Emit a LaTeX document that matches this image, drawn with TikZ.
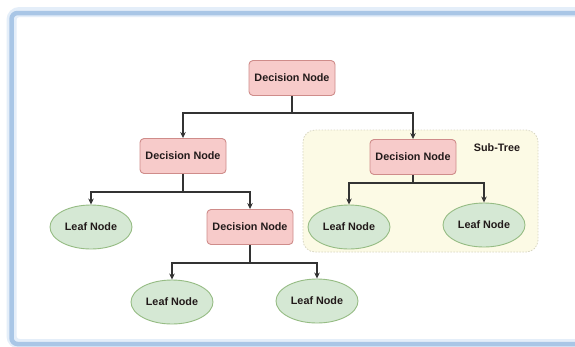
\documentclass[tikz,border=0pt]{standalone}
\usepackage{fontspec}
\setmainfont{Liberation Sans}
\usetikzlibrary{arrows.meta,shapes.geometric}
\definecolor{decfill}{HTML}{F7CBCA}
\definecolor{decdraw}{HTML}{CF8C8A}
\definecolor{leaffill}{HTML}{D5E8D4}
\definecolor{leafdraw}{HTML}{96BC84}
\definecolor{subfill}{HTML}{FCFAE5}
\definecolor{subdraw}{HTML}{D8D6C2}
\definecolor{framecol}{HTML}{A9C6E6}
\definecolor{frameglow}{HTML}{E4EEF9}
\definecolor{linecol}{HTML}{333333}
\definecolor{txtcol}{HTML}{221A1A}
\tikzset{
  decnode/.style={draw=decdraw, fill=decfill, line width=0.9pt, rounded corners=4pt,
    minimum width=86pt, minimum height=35pt, inner sep=0pt,
    font=\fontsize{10.8pt}{12pt}\selectfont\bfseries, text=txtcol},
  leafnode/.style={ellipse, draw=leafdraw, fill=leaffill, line width=0.9pt,
    minimum width=82pt, minimum height=44pt, inner sep=0pt,
    font=\fontsize{10.8pt}{12pt}\selectfont\bfseries, text=txtcol},
  conn/.style={draw=linecol, line width=1.2pt, -{Stealth[length=6pt,width=5.5pt]}},
  lbl/.style={font=\fontsize{10.8pt}{12pt}\selectfont\bfseries, text=txtcol, inner sep=0pt}
}
\begin{document}
\begin{tikzpicture}[x=1pt,y=-1pt]
\useasboundingbox (0,0) rectangle (575,346);
\fill[white] (0,0) rectangle (575,346);
% frame with soft glow
\draw[frameglow, line width=10pt, rounded corners=8pt] (11.5,12) rectangle (600,344);
\draw[framecol, line width=4.5pt, rounded corners=6pt] (11.5,13) rectangle (600,344);
% sub-tree region
\draw[subdraw, fill=subfill, dash pattern=on 1.5pt off 1.5pt, line width=0.8pt, rounded corners=12pt] (303,130) rectangle (538,252);
\node[lbl] (sublbl) at (497,148) {Sub-Tree};
% nodes
\node[decnode] (root) at (292,78) {Decision Node};
\node[decnode] (dn2) at (183,156) {Decision Node};
\node[decnode] (dn3) at (413,157) {Decision Node};
\node[leafnode] (leaf1) at (91,227) {Leaf Node};
\node[decnode] (dn4) at (250,227) {Decision Node};
\node[leafnode] (leafs1) at (349,227) {Leaf Node};
\node[leafnode] (leafs2) at (484,225) {Leaf Node};
\node[leafnode] (leafb1) at (172,302) {Leaf Node};
\node[leafnode] (leafb2) at (317,301) {Leaf Node};
% junctions
\coordinate (j1) at (292,113);
\coordinate (j2) at (183,192);
\coordinate (j3) at (413,183);
\coordinate (j4) at (250,263);
% connectors
\draw[conn] (root.south) -- (j1) -| (dn2.north);
\draw[conn] (j1) -| (dn3.north);
\draw[conn] (dn2.south) -- (j2) -| (leaf1.north);
\draw[conn] (j2) -| (dn4.north);
\draw[conn] (dn3.south) -- (j3) -| (leafs1.north);
\draw[conn] (j3) -| (leafs2.north);
\draw[conn] (dn4.south) -- (j4) -| (leafb1.north);
\draw[conn] (j4) -| (leafb2.north);
\end{tikzpicture}
\end{document}
